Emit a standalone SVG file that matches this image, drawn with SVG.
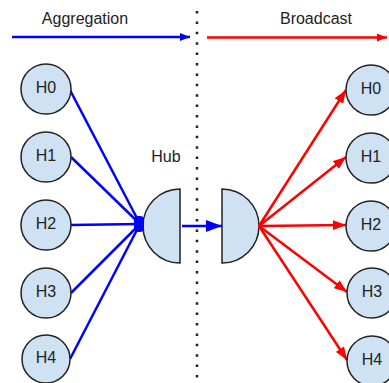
<svg xmlns="http://www.w3.org/2000/svg" width="389" height="383" viewBox="0 0 389 383">
<style>
.c{fill:#cfe2f3;stroke:#222;stroke-width:1.5}
.t{font-family:"Liberation Sans",Arial,sans-serif;font-size:16px;fill:#222;text-anchor:middle}
.lbl{font-family:"Liberation Sans",Arial,sans-serif;font-size:16px;fill:#222;text-anchor:middle}
.b{stroke:#0000ff;stroke-width:2.5;fill:none}
.r{stroke:#ff0000;stroke-width:2.5;fill:none}
</style>
<defs>
<marker id="abm" viewBox="0 0 16 12" refX="16" refY="6" markerWidth="16" markerHeight="12" markerUnits="userSpaceOnUse" orient="auto"><path d="M0,0 L16,6 L0,12 z" fill="#0000ff"/></marker>
<marker id="ar" viewBox="0 0 13 10" refX="13" refY="5" markerWidth="13" markerHeight="10" markerUnits="userSpaceOnUse" orient="auto"><path d="M0,0 L13,5 L0,10 z" fill="#ff0000"/></marker>
<marker id="at" viewBox="0 0 10 8" refX="10" refY="4" markerWidth="10" markerHeight="8" markerUnits="userSpaceOnUse" orient="auto"><path d="M0,0 L10,4 L0,8 z" fill="#0000ff"/></marker>
<marker id="art" viewBox="0 0 10 8" refX="10" refY="4" markerWidth="10" markerHeight="8" markerUnits="userSpaceOnUse" orient="auto"><path d="M0,0 L10,4 L0,8 z" fill="#ff0000"/></marker>
</defs>
<rect width="389" height="383" fill="#fff"/>
<line x1="197" y1="11" x2="197" y2="383" stroke="#222" stroke-width="2.5" stroke-dasharray="2.5 7.9"/>
<g id="labels">
<text class="lbl" x="85" y="24">Aggregation</text>
<text class="lbl" x="316" y="24">Broadcast</text>
<text class="t" x="166" y="162">Hub</text>
</g>
<g id="hubL"><path class="c" d="M180,189 A37,37 0 0 0 180,263 Z"/></g>
<g id="hubR"><path class="c" d="M222,189 A37,37 0 0 1 222,263 Z"/></g>
<g id="connectors">
<line class="b" x1="12" y1="37" x2="190" y2="37" marker-end="url(#at)"/>
<line class="r" x1="207" y1="37.5" x2="387" y2="37.5" marker-end="url(#art)"/>
<line class="b" x1="70" y1="90" x2="140" y2="224"/>
<line class="b" x1="71" y1="157" x2="140" y2="224"/>
<line class="b" x1="71" y1="225" x2="140" y2="224"/>
<line class="b" x1="71" y1="293" x2="140" y2="224"/>
<line class="b" x1="70" y1="359" x2="140" y2="224"/>
<rect x="134" y="216" width="10" height="16" rx="4" fill="#0000ff"/>
<line class="b" x1="182" y1="226" x2="222" y2="226" marker-end="url(#abm)"/>
<line class="r" x1="259" y1="226" x2="346" y2="90" marker-end="url(#ar)"/>
<line class="r" x1="259" y1="226" x2="346" y2="157" marker-end="url(#ar)"/>
<line class="r" x1="259" y1="226" x2="346" y2="225" marker-end="url(#ar)"/>
<line class="r" x1="259" y1="226" x2="347" y2="292" marker-end="url(#ar)"/>
<line class="r" x1="259" y1="226" x2="347" y2="360" marker-end="url(#ar)"/>
</g>
<g id="L0"><circle class="c" cx="46" cy="89" r="25"/><text class="t" x="46" y="93">H0</text></g>
<g id="L1"><circle class="c" cx="46" cy="157" r="25"/><text class="t" x="46" y="161">H1</text></g>
<g id="L2"><circle class="c" cx="46" cy="225" r="25"/><text class="t" x="46" y="229">H2</text></g>
<g id="L3"><circle class="c" cx="46" cy="293" r="25"/><text class="t" x="46" y="297">H3</text></g>
<g id="L4"><circle class="c" cx="46" cy="359" r="24"/><text class="t" x="46" y="363">H4</text></g>
<g id="R0"><circle class="c" cx="371" cy="90" r="25"/><text class="t" x="371" y="94">H0</text></g>
<g id="R1"><circle class="c" cx="371" cy="158" r="25"/><text class="t" x="371" y="162">H1</text></g>
<g id="R2"><circle class="c" cx="371" cy="226" r="25"/><text class="t" x="371" y="230">H2</text></g>
<g id="R3"><circle class="c" cx="372" cy="293" r="25"/><text class="t" x="372" y="297">H3</text></g>
<g id="R4"><circle class="c" cx="372" cy="361" r="25"/><text class="t" x="372" y="365">H4</text></g>
</svg>
